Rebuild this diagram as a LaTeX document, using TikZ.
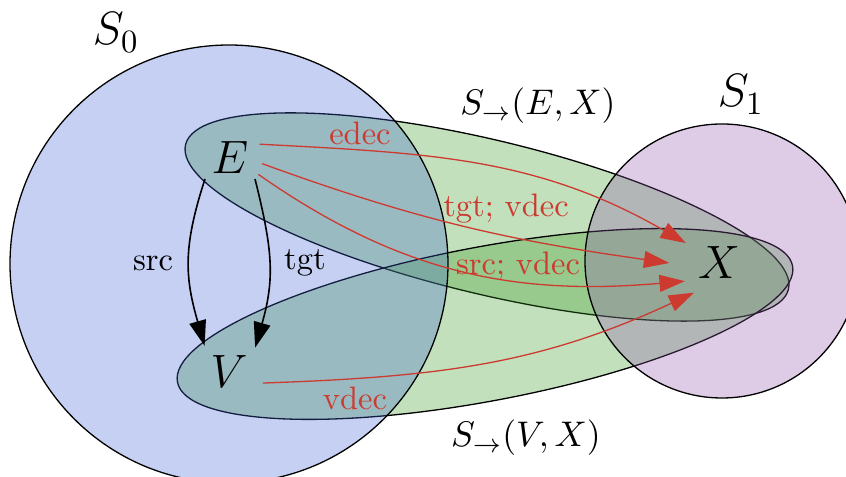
\documentclass[tikz,border=0pt]{standalone}
\usetikzlibrary{arrows.meta}

\definecolor{setblue}{RGB}{65,98,212}
\definecolor{setviolet}{RGB}{145,85,172}
\definecolor{relgreen}{RGB}{52,152,32}
\definecolor{decred}{RGB}{204,58,48}

\begin{document}
\begin{tikzpicture}[x=0.3077pt,y=0.3077pt,
  setcircle/.style={draw=black,thin,fill opacity=0.3},
  relation/.style={draw=black,thin,fill=relgreen,fill opacity=0.3},
  elem/.style={circle,inner sep=0pt,font=\Large},
  setname/.style={anchor=base,inner sep=0pt,font=\Large},
  relname/.style={anchor=base,inner sep=0pt,font=\fontsize{11}{13}\selectfont},
  maparrow/.style={line width=0.5pt,-{Triangle[length=7.8pt,width=5.2pt]}},
  decarrow/.style={decred,thin,-{Triangle[length=7.8pt,width=5.2pt]}},
  declabel/.style={anchor=base,inner sep=0pt,text=decred}]

\useasboundingbox (0,0) rectangle (846,477);
\clip (0,0) rectangle (846,477);

%====================================================
% Relations S_->(E,X) and S_->(V,X)
%====================================================
\draw[relation,rotate around={-13.5:(487,260)}] (487,260) ellipse[x radius=310,y radius=77];
\draw[relation,rotate around={10.7:(485,153)}] (485,153) ellipse[x radius=313,y radius=77];

%====================================================
% Sets S_0 and S_1
%====================================================
\draw[setcircle,fill=setblue] (229,213) circle[radius=219];
\draw[setcircle,fill=setviolet] (722,216) circle[radius=137];

\node[setname] (s0) at (116,432) {$S_0$};
\node[setname] (s1) at (741,370) {$S_1$};
\node[relname] (sex) at (538,362) {$S_{\to}(E,X)$};
\node[relname] (svx) at (526,30) {$S_{\to}(V,X)$};

% Elements
\node[elem,minimum size=19.7pt] (E) at (230,319) {$E$};
\node[elem,minimum size=21.6pt] (V) at (229,105) {$V$};
\node[elem,minimum size=23.4pt] (X) at (719,214) {$X$};

% src / tgt
\draw[maparrow] (E.-140) to[out=-108,in=106,looseness=1.1] (V.133);
\draw[maparrow] (E.-40) to[out=-76,in=74,looseness=1.1] (V.43);
\node[anchor=base,inner sep=0pt] (src) at (153,206) {src};
\node[anchor=base,inner sep=0pt] (tgt) at (305,207) {tgt};

% Decorations into X
\draw[decarrow] (E.25) to[out=-3,in=150] (X.149);
\draw[decarrow] (E.-10) to[out=-20,in=172] ([xshift=-3.4pt]X.180);
\draw[decarrow] (E.-30) to[out=-35,in=-175] (X.208);
\draw[decarrow] (V.-18) to[out=2,in=-155] (X.230);

\node[declabel] (edec) at (360,332) {edec};
\node[declabel] (tvdec) at (506,260) {tgt; vdec};
\node[declabel] (svdec) at (518,202) {src; vdec};
\node[declabel] (vdec) at (355,67) {vdec};

\end{tikzpicture}
\end{document}
